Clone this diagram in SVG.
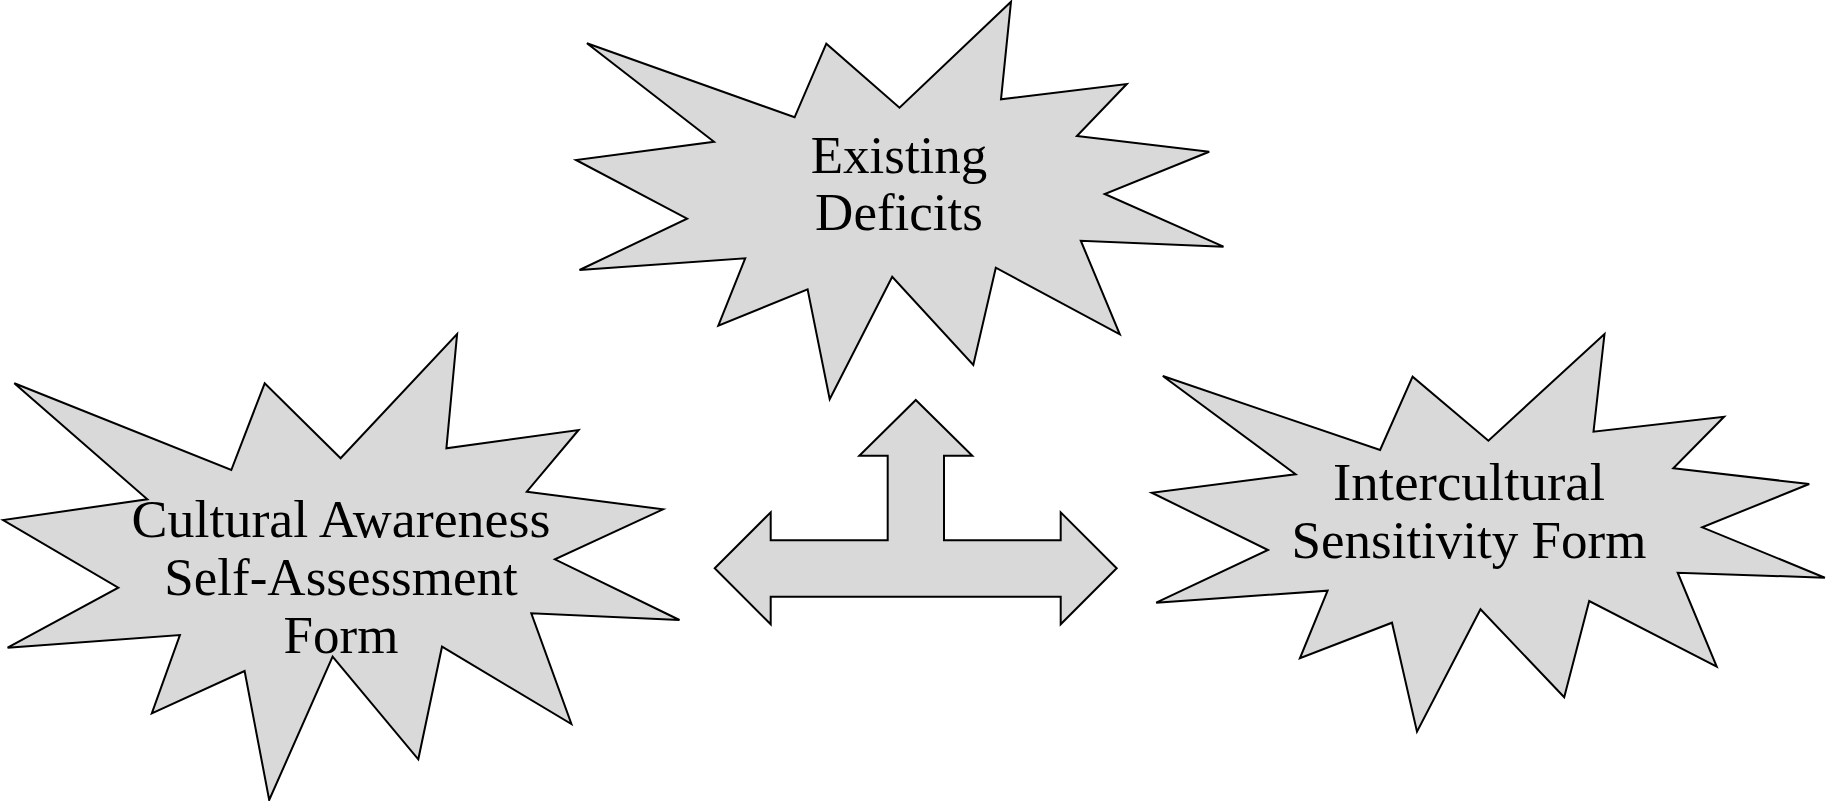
<svg xmlns="http://www.w3.org/2000/svg" width="1827" height="801" viewBox="0 0 1827 801">
<style>
.shape{fill:#d9d9d9;stroke:#000;stroke-width:2;stroke-linejoin:miter}
.lbl{font-family:"Liberation Serif","Times New Roman",serif;font-size:53px;fill:#000;text-anchor:middle}
</style>
<rect width="1827" height="801" fill="#fff"/>
<g id="node-existing-deficits">
<polygon class="shape" points="586.9,43.3 794.6,117.3 826.3,43.7 899.5,107.7 1011,1.7 1001,99.3 1126.8,84 1076.9,136 1209.2,151.7 1104.7,194 1223.5,246.7 1080.8,240.7 1119.8,334.3 995.8,267.7 973.3,365 892.2,276.7 829.7,399.3 807.6,289.3 718.3,325.7 745.2,258.3 579.5,270 687.1,218.7 576,160 714,141.7"/>
<text class="lbl" x="899" y="173">Existing</text>
<text class="lbl" x="899" y="230">Deficits</text>
</g>
<g id="node-cultural-awareness">
<polygon class="shape" points="14.3,383.3 231.3,470 264.7,383.3 340.6,458.3 457.1,334 446.4,448.3 578.6,430 526.8,491.7 663,509.3 554.9,559.3 679.5,620 531.3,613.3 571.4,724 442,646.7 418.3,759.3 332.6,656.7 269.2,800 244.6,671 151.8,713.3 179.9,635 7.6,647.7 118.3,587.7 3.1,520 147.3,499.3"/>
<text class="lbl" x="341" y="537" textLength="419" lengthAdjust="spacingAndGlyphs">Cultural Awareness</text>
<text class="lbl" x="341" y="595">Self-Assessment</text>
<text class="lbl" x="341" y="653">Form</text>
</g>
<g id="node-intercultural-sensitivity">
<polygon class="shape" points="1162.8,376 1380.1,450 1412.6,376.7 1488.4,440.7 1604.5,334 1593.5,431.7 1724.1,416.7 1673.3,468.3 1809.2,484 1702.2,527.3 1824.9,577.7 1677.7,572.7 1716.7,666.7 1589.2,601 1564.2,697.3 1480.5,609.3 1417,731.7 1392,622.7 1299.9,658.3 1327.6,590.7 1156.2,602.7 1268,550 1151.8,492.7 1295.6,474.3"/>
<text class="lbl" x="1469" y="500" textLength="272" lengthAdjust="spacingAndGlyphs">Intercultural</text>
<text class="lbl" x="1469" y="558">Sensitivity Form</text>
</g>
<g id="connectors">
<polygon class="shape" points="915.8,400 972.3,455.7 944,455.7 944,540.3 1060.7,540.3 1060.7,512.3 1116.7,568.3 1060.7,624.3 1060.7,596.7 770.7,596.7 770.7,624.3 714.7,568.3 770.7,512.3 770.7,540.3 887.7,540.3 887.7,455.7 859.3,455.7"/>
</g>
</svg>
